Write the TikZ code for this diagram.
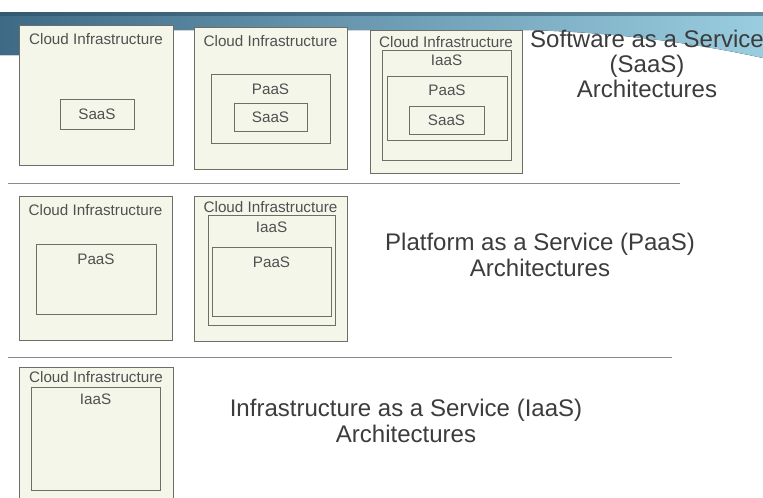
\documentclass[tikz,border=0pt]{standalone}
\usepackage{fontspec}
\setmainfont{Liberation Sans}
\usetikzlibrary{positioning}

\definecolor{boxline}{HTML}{6E6E66}
\definecolor{boxfill}{HTML}{F5F6EA}
\definecolor{labelgray}{HTML}{505050}
\definecolor{titlegray}{HTML}{3C3C3C}
\definecolor{bannerdark}{HTML}{3E6A86}
\definecolor{bannerlight}{HTML}{9ACDE0}
\definecolor{rulegray}{HTML}{8A8A8A}

\tikzset{
  cloudbox/.style={draw=boxline, fill=boxfill, line width=0.7pt, inner sep=0pt},
  layerbox/.style={draw=boxline, fill=boxfill, line width=0.6pt, inner sep=0pt},
  boxlabel/.style={text=labelgray, font=\fontsize{13}{14}\selectfont, inner sep=0pt},
  archtext/.style={text=titlegray, font=\fontsize{20.5}{21.5}\selectfont, align=center, inner sep=0pt},
}

\begin{document}
\begin{tikzpicture}[x=0.03cm, y=-0.03cm]
\clip (0,0) rectangle (763,497);
\fill[white] (0,0) rectangle (763,497);

% banner
\fill[left color=bannerdark, right color=bannerlight]
  (0,12) -- (763,12) -- (763,58) .. controls (690,42) and (610,32) .. (525,30)
  -- (30,30) -- (20,55) -- (0,55) -- cycle;
\fill[bannerdark!70!black, opacity=0.5] (0,12) rectangle (763,16);

% SaaS row
\node[cloudbox, minimum width=4.62cm, minimum height=4.2cm] (sa1) at (96,95) {};
\node[boxlabel, below=0.25cm of sa1.north] (sa1c) {Cloud Infrastructure};
\node[layerbox, minimum width=2.22cm, minimum height=0.9cm] (sa1s) at (97,114) {};
\node[boxlabel] (sa1sl) at (sa1s) {SaaS};

\node[cloudbox, minimum width=4.59cm, minimum height=4.26cm] (sa2) at (270.5,98) {};
\node[boxlabel, below=0.25cm of sa2.north] (sa2c) {Cloud Infrastructure};
\node[layerbox, minimum width=3.57cm, minimum height=2.07cm] (sa2p) at (270.5,108.5) {};
\node[boxlabel, below=0.3cm of sa2p.north] (sa2pl) {PaaS};
\node[layerbox, minimum width=2.19cm, minimum height=0.84cm] (sa2s) at (270.5,117) {};
\node[boxlabel] (sa2sl) at (sa2s) {SaaS};

\node[cloudbox, minimum width=4.56cm, minimum height=4.29cm] (sa3) at (446,101.5) {};
\node[boxlabel, below=0.2cm of sa3.north] (sa3c) {Cloud Infrastructure};
\node[layerbox, minimum width=3.87cm, minimum height=3.3cm] (sa3i) at (446.5,105) {};
\node[boxlabel, below=0.15cm of sa3i.north] (sa3il) {IaaS};
\node[layerbox, minimum width=3.6cm, minimum height=1.9cm] (sa3p) at (447,108.5) {};
\node[boxlabel, below=0.25cm of sa3p.north] (sa3pl) {PaaS};
\node[layerbox, minimum width=2.25cm, minimum height=0.84cm] (sa3s) at (446.5,120) {};
\node[boxlabel] (sa3sl) at (sa3s) {SaaS};

\node[archtext] (saas) at (647,64) {Software as a Service\\(SaaS)\\Architectures};

\coordinate (r1a) at (8,183);
\coordinate (r1b) at (680,183);
\draw[rulegray, line width=0.5pt] (r1a) -- (r1b);

% PaaS row
\node[cloudbox, minimum width=4.59cm, minimum height=4.32cm] (pa1) at (95.5,268) {};
\node[boxlabel, below=0.25cm of pa1.north] (pa1c) {Cloud Infrastructure};
\node[layerbox, minimum width=3.6cm, minimum height=2.1cm] (pa1p) at (96,279) {};
\node[boxlabel, below=0.3cm of pa1p.north] (pa1pl) {PaaS};

\node[cloudbox, minimum width=4.59cm, minimum height=4.35cm] (pa2) at (270.5,268.5) {};
\node[boxlabel, below=0.18cm of pa2.north] (pa2c) {Cloud Infrastructure};
\node[layerbox, minimum width=3.81cm, minimum height=3.3cm] (pa2i) at (271.5,270) {};
\node[boxlabel, below=0.2cm of pa2i.north] (pa2il) {IaaS};
\node[layerbox, minimum width=3.57cm, minimum height=2.07cm] (pa2p) at (271.5,281.5) {};
\node[boxlabel, below=0.3cm of pa2p.north] (pa2pl) {PaaS};

\node[archtext] (paas) at (540,255) {Platform as a Service (PaaS)\\Architectures};

\coordinate (r2a) at (8,357);
\coordinate (r2b) at (672,357);
\draw[rulegray, line width=0.5pt] (r2a) -- (r2b);

% IaaS row
\node[cloudbox, minimum width=4.62cm, minimum height=3.99cm] (ia1) at (96,433.5) {};
\node[boxlabel, below=0.15cm of ia1.north] (ia1c) {Cloud Infrastructure};
\node[layerbox, minimum width=3.87cm, minimum height=3.09cm] (ia1i) at (95.5,438.5) {};
\node[boxlabel, below=0.2cm of ia1i.north] (ia1il) {IaaS};

\node[archtext] (iaas) at (406,421) {Infrastructure as a Service (IaaS)\\Architectures};
\end{tikzpicture}
\end{document}
